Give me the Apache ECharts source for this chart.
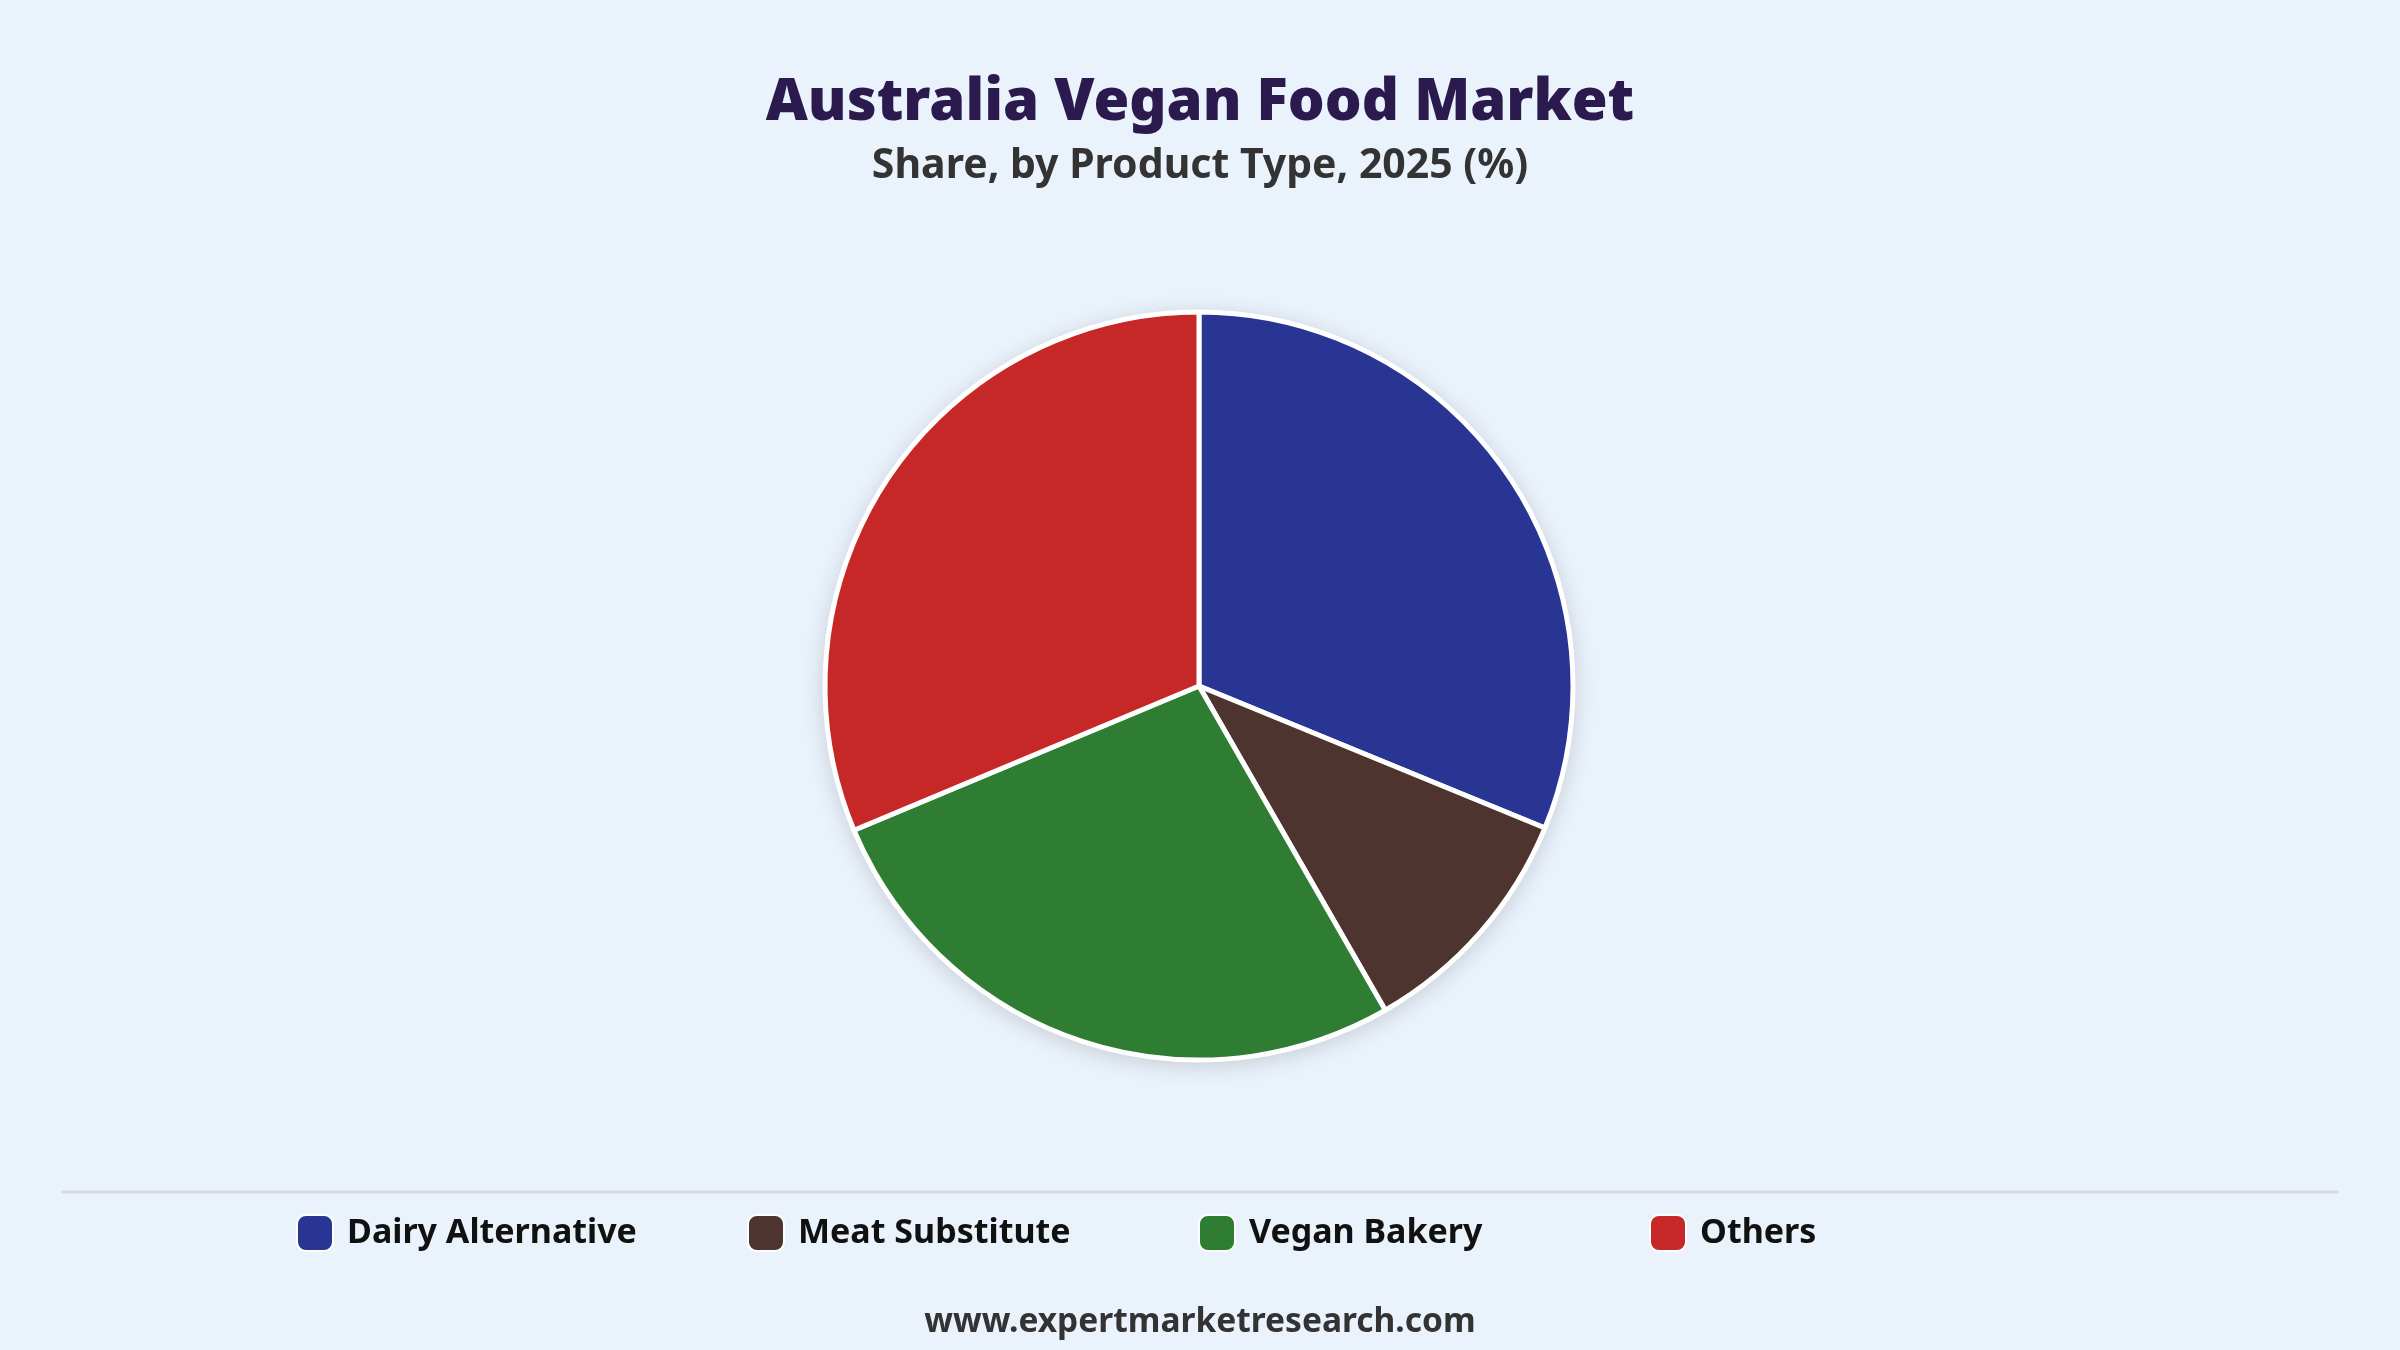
<!DOCTYPE html>
<html>
<head>
<meta charset="utf-8">
<script src="https://cdn.jsdelivr.net/npm/echarts@6/dist/echarts.min.js"></script>
<style>
  html, body { margin: 0; padding: 0; background: #EAF2FB; }
  #main { width: 2400px; height: 1350px; }
</style>
</head>
<body>
<div id="main"></div>
<script>
// data
var categories = ['Dairy Alternative', 'Meat Substitute', 'Vegan Bakery', 'Others'];
var shares = [31.2, 10.5, 27.0, 31.3];
var colors = ['#283593', '#4E342E', '#2E7D32', '#C62828'];
var legendLeft = [291, 742, 1193, 1644];

var myChart = echarts.init(document.getElementById('main'));

var pieData = categories.map(function (name, i) {
    return { name: name, value: shares[i], itemStyle: { color: colors[i] } };
});

// one legend per item so they sit on an even grid
var legends = categories.map(function (name, i) {
    return {
        data: [name],
        left: legendLeft[i],
        top: 1209,
        icon: 'roundRect',
        itemWidth: 36,
        itemHeight: 36,
        itemGap: 0,
        selectedMode: false,
        textStyle: {
            fontFamily: 'Noto Sans',
            fontWeight: 'bold',
            fontSize: 34,
            color: '#111',
            padding: [0, 0, 0, 9]
        }
    };
});

var option = {
    backgroundColor: '#EAF2FB',
    title: [
        {
            text: 'Australia Vegan Food Market',
            left: 'center',
            top: 69,
            textStyle: { fontFamily: 'Noto Sans', fontWeight: 900, fontSize: 58, color: '#2B1A4E' }
        },
        {
            text: 'Share, by Product Type, 2025 (%)',
            left: 'center',
            top: 141,
            textStyle: { fontFamily: 'Noto Sans', fontWeight: 'bold', fontSize: 41, color: '#333333' }
        },
        {
            text: 'www.expertmarketresearch.com',
            left: 'center',
            top: 1300,
            textStyle: { fontFamily: 'Noto Sans', fontWeight: 'bold', fontSize: 33.5, color: '#333333' }
        }
    ],
    legend: legends,
    graphic: [
        {
            type: 'line',
            shape: { x1: 61, y1: 1192, x2: 2339, y2: 1192 },
            style: { stroke: '#D9DDE2', lineWidth: 3 }
        }
    ],
    series: [
        {
            // shadow disc behind the slices
            type: 'pie',
            silent: true,
            center: [1199, 686],
            radius: 374,
            z: 1,
            label: { show: false },
            labelLine: { show: false },
            data: [{ name: '', value: 1, itemStyle: { color: '#ffffff', shadowBlur: 24, shadowColor: 'rgba(0,0,0,0.18)', shadowOffsetY: 4 } }]
        },
        {
            name: 'Share',
            type: 'pie',
            center: [1199, 686],
            radius: 374,
            startAngle: 90,
            clockwise: true,
            z: 2,
            label: { show: false },
            labelLine: { show: false },
            itemStyle: { borderColor: '#ffffff', borderWidth: 5 },
            data: pieData
        }
    ]
};

myChart.setOption(option);
</script>
</body>
</html>
